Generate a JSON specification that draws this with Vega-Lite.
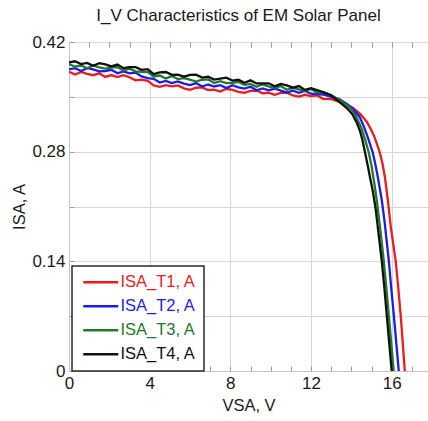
{
  "$schema": "https://vega.github.io/schema/vega-lite/v6.json",
  "width": 359,
  "height": 329,
  "autosize": "none",
  "padding": {"left": 69, "top": 42, "right": 0, "bottom": 50},
  "background": "white",
  "title": {"text": "I_V Characteristics of EM Solar Panel", "font": "Liberation Sans", "fontSize": 17, "fontWeight": "normal", "color": "#1a1a1a", "anchor": "middle", "dx": -10, "offset": -5, "baseline": "alphabetic"},
  "config": {"view": {"stroke": "#c4c4c4", "strokeWidth": 1}, "font": "Liberation Sans"},
  "data": {"values": [
    {"v": 0, "T1": 0.382, "T2": 0.385, "T3": 0.392, "T4": 0.394},
    {"v": 0.3, "T1": 0.3784, "T2": 0.3865, "T3": 0.3885, "T4": 0.3954},
    {"v": 0.6, "T1": 0.3818, "T2": 0.383, "T3": 0.39, "T4": 0.3918},
    {"v": 0.9, "T1": 0.3792, "T2": 0.3865, "T3": 0.3865, "T4": 0.3932},
    {"v": 1.2, "T1": 0.3776, "T2": 0.385, "T3": 0.39, "T4": 0.3896},
    {"v": 1.5, "T1": 0.38, "T2": 0.3825, "T3": 0.3875, "T4": 0.393},
    {"v": 1.8, "T1": 0.3754, "T2": 0.383, "T3": 0.386, "T4": 0.3914},
    {"v": 2.1, "T1": 0.3778, "T2": 0.3845, "T3": 0.3875, "T4": 0.3888},
    {"v": 2.4, "T1": 0.3752, "T2": 0.38, "T3": 0.388, "T4": 0.3912},
    {"v": 2.7, "T1": 0.3776, "T2": 0.3825, "T3": 0.3835, "T4": 0.3866},
    {"v": 3.0, "T1": 0.375, "T2": 0.38, "T3": 0.386, "T4": 0.388},
    {"v": 3.3, "T1": 0.371, "T2": 0.381, "T3": 0.3825, "T4": 0.3878},
    {"v": 3.6, "T1": 0.372, "T2": 0.376, "T3": 0.382, "T4": 0.3845},
    {"v": 3.9, "T1": 0.3703, "T2": 0.374, "T3": 0.3815, "T4": 0.3853},
    {"v": 4.2, "T1": 0.3645, "T2": 0.373, "T3": 0.376, "T4": 0.379},
    {"v": 4.5, "T1": 0.3628, "T2": 0.3682, "T3": 0.3772, "T4": 0.3813},
    {"v": 4.8, "T1": 0.365, "T2": 0.3703, "T3": 0.3733, "T4": 0.3817},
    {"v": 5.1, "T1": 0.3633, "T2": 0.3675, "T3": 0.3765, "T4": 0.378},
    {"v": 5.4, "T1": 0.3645, "T2": 0.3697, "T3": 0.3727, "T4": 0.3783},
    {"v": 5.7, "T1": 0.3608, "T2": 0.3668, "T3": 0.3738, "T4": 0.3757},
    {"v": 6.0, "T1": 0.359, "T2": 0.365, "T3": 0.372, "T4": 0.378},
    {"v": 6.3, "T1": 0.3616, "T2": 0.3676, "T3": 0.3694, "T4": 0.3783},
    {"v": 6.6, "T1": 0.3621, "T2": 0.3631, "T3": 0.3718, "T4": 0.3745},
    {"v": 6.9, "T1": 0.3587, "T2": 0.3657, "T3": 0.3722, "T4": 0.3758},
    {"v": 7.2, "T1": 0.3592, "T2": 0.3632, "T3": 0.3676, "T4": 0.372},
    {"v": 7.5, "T1": 0.3568, "T2": 0.3648, "T3": 0.37, "T4": 0.3733},
    {"v": 7.8, "T1": 0.3603, "T2": 0.3613, "T3": 0.3674, "T4": 0.3745},
    {"v": 8.1, "T1": 0.3589, "T2": 0.3648, "T3": 0.3678, "T4": 0.3707},
    {"v": 8.4, "T1": 0.3564, "T2": 0.3622, "T3": 0.369, "T4": 0.3718},
    {"v": 8.7, "T1": 0.355, "T2": 0.3606, "T3": 0.3653, "T4": 0.3679},
    {"v": 9.0, "T1": 0.3575, "T2": 0.363, "T3": 0.3665, "T4": 0.371},
    {"v": 9.3, "T1": 0.3581, "T2": 0.3584, "T3": 0.3628, "T4": 0.3671},
    {"v": 9.6, "T1": 0.3546, "T2": 0.3608, "T3": 0.366, "T4": 0.3672},
    {"v": 9.9, "T1": 0.3552, "T2": 0.3582, "T3": 0.3633, "T4": 0.3673},
    {"v": 10.2, "T1": 0.3526, "T2": 0.3606, "T3": 0.3615, "T4": 0.3634},
    {"v": 10.5, "T1": 0.355, "T2": 0.358, "T3": 0.3638, "T4": 0.3665},
    {"v": 10.8, "T1": 0.3554, "T2": 0.3554, "T3": 0.359, "T4": 0.3646},
    {"v": 11.1, "T1": 0.3518, "T2": 0.3578, "T3": 0.3613, "T4": 0.3617},
    {"v": 11.4, "T1": 0.3502, "T2": 0.3552, "T3": 0.3595, "T4": 0.3638},
    {"v": 11.7, "T1": 0.3526, "T2": 0.3576, "T3": 0.3578, "T4": 0.3589},
    {"v": 12.0, "T1": 0.351, "T2": 0.354, "T3": 0.36, "T4": 0.361},
    {"v": 12.3, "T1": 0.3518, "T2": 0.3535, "T3": 0.3555, "T4": 0.3585},
    {"v": 12.6, "T1": 0.3475, "T2": 0.353, "T3": 0.356, "T4": 0.356},
    {"v": 13.0, "T1": 0.347, "T2": 0.35, "T3": 0.352, "T4": 0.352},
    {"v": 13.43, "T4": 0.343},
    {"v": 13.8, "T4": 0.335},
    {"v": 14.07, "T4": 0.327},
    {"v": 14.25, "T4": 0.318},
    {"v": 14.42, "T4": 0.307},
    {"v": 14.55, "T4": 0.295},
    {"v": 14.67, "T4": 0.28},
    {"v": 14.8, "T4": 0.264},
    {"v": 14.92, "T4": 0.248},
    {"v": 15.06, "T4": 0.23},
    {"v": 15.2, "T4": 0.208},
    {"v": 15.35, "T4": 0.175},
    {"v": 15.51, "T4": 0.14},
    {"v": 15.64, "T4": 0.105},
    {"v": 15.76, "T4": 0.07},
    {"v": 15.88, "T4": 0.035},
    {"v": 16.0, "T4": 0.0},
    {"v": 13.43, "T3": 0.346},
    {"v": 13.9, "T3": 0.337},
    {"v": 14.2, "T3": 0.327},
    {"v": 14.5, "T3": 0.31},
    {"v": 14.7, "T3": 0.294},
    {"v": 14.87, "T3": 0.278},
    {"v": 15.0, "T3": 0.262},
    {"v": 15.13, "T3": 0.241},
    {"v": 15.26, "T3": 0.218},
    {"v": 15.42, "T3": 0.184},
    {"v": 15.61, "T3": 0.14},
    {"v": 15.74, "T3": 0.105},
    {"v": 15.86, "T3": 0.07},
    {"v": 15.98, "T3": 0.035},
    {"v": 16.1, "T3": 0.0},
    {"v": 13.4, "T2": 0.347},
    {"v": 13.78, "T2": 0.341},
    {"v": 14.1, "T2": 0.334},
    {"v": 14.42, "T2": 0.324},
    {"v": 14.62, "T2": 0.312},
    {"v": 14.82, "T2": 0.298},
    {"v": 15.06, "T2": 0.279},
    {"v": 15.19, "T2": 0.264},
    {"v": 15.31, "T2": 0.248},
    {"v": 15.51, "T2": 0.218},
    {"v": 15.65, "T2": 0.19},
    {"v": 15.86, "T2": 0.14},
    {"v": 15.98, "T2": 0.105},
    {"v": 16.11, "T2": 0.07},
    {"v": 16.23, "T2": 0.035},
    {"v": 16.35, "T2": 0.0},
    {"v": 13.5, "T1": 0.343},
    {"v": 14.07, "T1": 0.336},
    {"v": 14.45, "T1": 0.328},
    {"v": 14.77, "T1": 0.318},
    {"v": 15.0, "T1": 0.307},
    {"v": 15.16, "T1": 0.298},
    {"v": 15.41, "T1": 0.279},
    {"v": 15.55, "T1": 0.264},
    {"v": 15.66, "T1": 0.248},
    {"v": 15.81, "T1": 0.218},
    {"v": 15.95, "T1": 0.185},
    {"v": 16.2, "T1": 0.14},
    {"v": 16.33, "T1": 0.105},
    {"v": 16.45, "T1": 0.07},
    {"v": 16.55, "T1": 0.035},
    {"v": 16.65, "T1": 0.0}
  ]},
  "transform": [
    {"fold": ["T1", "T2", "T3", "T4"], "as": ["s", "i"]},
    {"filter": "isValid(datum.i)"}
  ],
  "layer": [
    {
      "mark": {"type": "line", "strokeWidth": 2.3, "clip": true},
      "encoding": {
        "x": {"field": "v", "type": "quantitative",
          "scale": {"domain": [0, 17.8], "nice": false, "zero": false},
          "axis": {"title": "VSA, V", "values": [0,1,2,3,4,5,6,7,8,9,10,11,12,13,14,15,16,17],
            "labelExpr": "datum.value % 4 == 0 ? datum.label : ''",
            "grid": true, "gridColor": "#d6d6d6",
            "gridOpacity": {"condition": {"test": "datum.value % 4 == 0", "value": 1}, "value": 0},
            "tickSize": -5, "tickColor": "#9a9a9a", "domainColor": "#c4c4c4",
            "labelFont": "Liberation Sans", "labelFontSize": 17, "labelColor": "#1a1a1a", "labelPadding": 9,
            "labelFlush": false, "labelOverlap": false,
            "titleFont": "Liberation Sans", "titleFontSize": 16.5, "titleFontWeight": "normal", "titleColor": "#1a1a1a", "titlePadding": 6}},
        "y": {"field": "i", "type": "quantitative",
          "scale": {"domain": [0, 0.42], "nice": false, "zero": true},
          "axis": {"title": "ISA, A", "values": [0, 0.07, 0.14, 0.21, 0.28, 0.35, 0.42],
            "labelExpr": "round(datum.value/0.07) % 2 == 0 ? (datum.value == 0 ? '0' : format(datum.value, '.2f')) : ''",
            "grid": true, "gridColor": "#d6d6d6",
            "tickSize": -5, "tickColor": "#9a9a9a", "domainColor": "#c4c4c4",
            "labelFont": "Liberation Sans", "labelFontSize": 17, "labelColor": "#1a1a1a", "labelPadding": 9,
            "labelFlush": false, "labelOverlap": false,
            "titleFont": "Liberation Sans", "titleFontSize": 16.5, "titleFontWeight": "normal", "titleColor": "#1a1a1a", "titlePadding": 4}},
        "color": {"field": "s", "type": "nominal",
          "scale": {"domain": ["T1", "T2", "T3", "T4"], "range": ["#ec1c1c", "#1c1cf0", "#217a2a", "#111111"]},
          "legend": {"title": null, "orient": "none", "legendX": 3, "legendY": 224, "direction": "vertical",
            "symbolType": "M-1,0H6", "symbolSize": 100, "symbolStrokeWidth": 2.5,
            "labelFont": "Liberation Sans", "labelFontSize": 16.5, "labelOffset": 24, "labelLimit": 0,
            "labelExpr": "'ISA_' + datum.label + ', A'",
            "strokeColor": "#2a2a2a", "fillColor": "white", "padding": 8, "rowPadding": 7,
            "encode": {"labels": {"update": {"fill": {"scale": "color", "field": "value"}}}, "legend": {"update": {"strokeWidth": {"value": 1.5}}}}}}
      }
    },
    {
      "mark": {"type": "rule", "strokeOpacity": 0},
      "encoding": {
        "x": {"field": "v", "type": "quantitative",
          "axis": {"orient": "top", "title": null, "values": [0,1,2,3,4,5,6,7,8,9,10,11,12,13,14,15,16,17],
            "labels": false, "grid": false, "domain": false, "tickSize": -5, "tickColor": "#9a9a9a"}}
      }
    }
  ],
  "resolve": {"axis": {"x": "independent"}}
}
